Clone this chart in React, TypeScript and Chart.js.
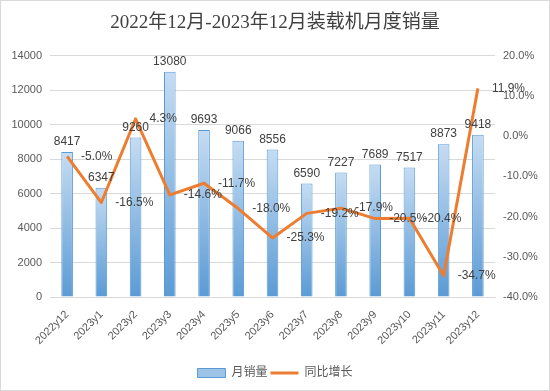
import React, { useEffect, useRef } from "react";
import { Chart, registerables } from "chart.js";

Chart.register(...registerables);

const titleText = "2022年12月-2023年12月装载机月度销量";
const categories = ["2022y12", "2023y1", "2023y2", "2023y3", "2023y4", "2023y5", "2023y6", "2023y7", "2023y8", "2023y9", "2023y10", "2023y11", "2023y12"];
const salesValues = [8417, 6347, 9260, 13080, 9693, 9066, 8556, 6590, 7227, 7689, 7517, 8873, 9418];
const growthValues = [-5.0, -16.5, 4.3, -14.6, -11.7, -18.0, -25.3, -19.2, -17.9, -20.5, -20.4, -34.7, 11.9];
const salesLabel = "月销量";
const growthLabel = "同比增长";

const FONT = "'Liberation Sans', 'Noto Sans CJK SC', sans-serif";
const GRAY = "#595959";

const framePlugin = {
  id: "frame",
  beforeDraw(chart: any) {
    const ctx = chart.ctx;
    ctx.save();
    ctx.fillStyle = "#ffffff";
    ctx.fillRect(0, 0, chart.width, chart.height);
    ctx.strokeStyle = "#d9d9d9";
    ctx.lineWidth = 1;
    ctx.strokeRect(0.5, 0.5, chart.width - 1, chart.height - 1);
    ctx.restore();
  },
};

const labelPlugin = {
  id: "dataLabels",
  afterDatasetsDraw(chart: any) {
    const ctx = chart.ctx;
    ctx.save();
    ctx.font = `12px ${FONT}`;
    ctx.fillStyle = "#404040";
    const barMeta = chart.getDatasetMeta(0);
    barMeta.data.forEach((el: any, i: number) => {
      ctx.textAlign = "center";
      ctx.textBaseline = "bottom";
      ctx.fillText(String(salesValues[i]), el.x, el.y - 4);
    });
    const lineMeta = chart.getDatasetMeta(1);
    lineMeta.data.forEach((el: any, i: number) => {
      ctx.textAlign = "left";
      ctx.textBaseline = "middle";
      ctx.fillText(growthValues[i].toFixed(1) + "%", el.x + 14, el.y);
    });
    ctx.restore();
  },
};

export default function App() {
  const ref = useRef<HTMLCanvasElement | null>(null);

  useEffect(() => {
    if (!ref.current) return;
    const chart = new Chart(ref.current, {
      type: "bar",
      data: {
        labels: categories,
        datasets: [
          {
            type: "bar",
            label: salesLabel,
            data: salesValues,
            yAxisID: "y",
            order: 2,
            borderColor: "#5b9bd5",
            borderWidth: 1,
            barPercentage: 0.34,
            categoryPercentage: 1,
            backgroundColor: (c: any) => {
              const chart = c.chart;
              if (!chart.chartArea || c.raw === undefined) return "#9dc3e6";
              const ys = chart.scales.y;
              const top = ys.getPixelForValue(c.raw);
              const bottom = ys.getPixelForValue(0);
              const g = chart.ctx.createLinearGradient(0, top, 0, bottom);
              g.addColorStop(0, "#c5dcf2");
              g.addColorStop(1, "#5b9bd5");
              return g;
            },
          } as any,
          {
            type: "line",
            label: growthLabel,
            data: growthValues,
            yAxisID: "y1",
            order: 1,
            borderColor: "#ed7d31",
            backgroundColor: "#ed7d31",
            borderWidth: 3,
            pointRadius: 0,
            tension: 0,
            borderJoinStyle: "round",
          } as any,
        ],
      },
      options: {
        responsive: false,
        animation: false,
        devicePixelRatio: 1,
        layout: { padding: { bottom: 2 } },
        plugins: {
          title: {
            display: true,
            text: titleText,
            color: "#404040",
            font: { family: "'Liberation Serif', 'Noto Sans CJK SC', serif", size: 19, weight: "normal" },
            padding: { top: 12, bottom: 21 },
          },
          legend: {
            position: "bottom",
            labels: {
              color: GRAY,
              font: { family: FONT, size: 12 },
              usePointStyle: true,
              pointStyleWidth: 28,
              boxHeight: 9,
              padding: 3,
              generateLabels: (chart: any) => {
                const items = Chart.defaults.plugins.legend.labels.generateLabels(chart);
                items.sort((a: any, b: any) => a.datasetIndex - b.datasetIndex);
                return items.map((it: any) =>
                  it.datasetIndex === 0
                    ? { ...it, fillStyle: "#9dc3e6", strokeStyle: "#5b9bd5", lineWidth: 1, pointStyle: "rect" }
                    : { ...it, pointStyle: "line", strokeStyle: "#ed7d31", lineWidth: 3 }
                );
              },
            },
          },
          tooltip: { enabled: false },
        },
        scales: {
          x: {
            grid: { display: false },
            border: { display: true, color: "#d9d9d9" },
            ticks: { color: GRAY, font: { family: FONT, size: 11 }, minRotation: 45, maxRotation: 45, autoSkip: false },
            afterFit: (s: any) => { s.height = 67; },
          },
          y: {
            position: "left",
            min: 0,
            max: 14000,
            ticks: { stepSize: 2000, color: GRAY, font: { family: FONT, size: 11 }, padding: 8, callback: (v: any) => String(v) },
            grid: { color: "#d9d9d9", drawTicks: false },
            border: { display: false },
            afterFit: (s: any) => { s.width = 50; },
          },
          y1: {
            position: "right",
            min: -40,
            max: 20,
            ticks: { stepSize: 10, color: GRAY, font: { family: FONT, size: 11 }, padding: 8, callback: (v: any) => Number(v).toFixed(1) + "%" },
            grid: { display: false, drawTicks: false },
            border: { display: false },
            afterFit: (s: any) => { s.width = 55; },
          },
        },
      },
      plugins: [framePlugin, labelPlugin],
    });
    return () => chart.destroy();
  }, []);

  return (
    <div style={{ position: "absolute", left: 0, top: 0, width: 550, height: 391 }}>
      <canvas ref={ref} width={550} height={391} />
    </div>
  );
}
